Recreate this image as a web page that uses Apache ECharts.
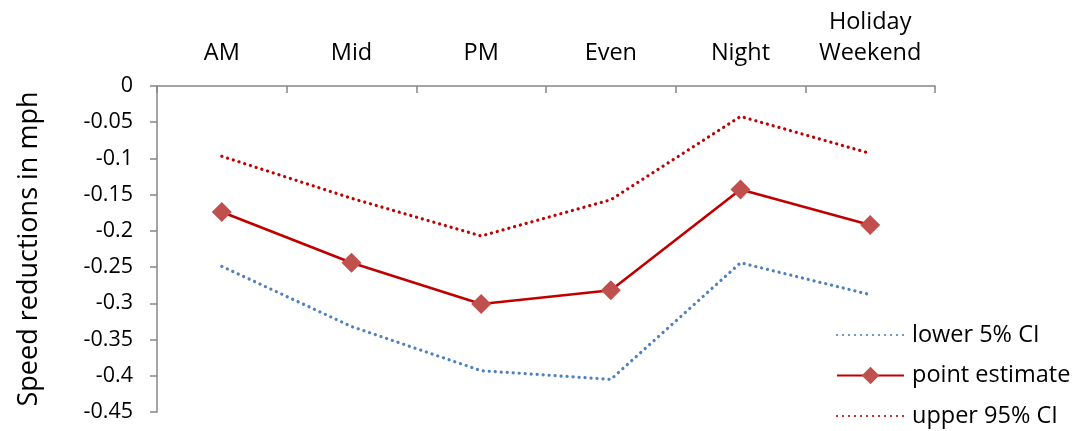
<!DOCTYPE html>
<html>
<head>
<meta charset="utf-8">
<script src="https://cdn.jsdelivr.net/npm/echarts@6/dist/echarts.min.js"></script>
<style>
html,body{margin:0;padding:0;background:#fff;}
#chart{width:1077px;height:431px;}
</style>
</head>
<body>
<div id="chart"></div>
<script>
const categories = ['AM', 'Mid', 'PM', 'Even', 'Night', 'Holiday\nWeekend'];
const lowerCI = [-0.249, -0.332, -0.393, -0.405, -0.244, -0.288];
const pointEstimate = [-0.174, -0.244, -0.301, -0.282, -0.143, -0.192];
const upperCI = [-0.097, -0.155, -0.207, -0.157, -0.042, -0.093];
const seriesNames = ['lower 5% CI', 'point estimate', 'upper 95% CI'];

const FONT = '"Open Sans", "Liberation Sans", sans-serif';
const chart = echarts.init(document.getElementById('chart'), null, {renderer: 'canvas'});
const dotted = [0.1, 5.9];
chart.setOption({
  animation: false,
  backgroundColor: '#ffffff',
  textStyle: {fontFamily: FONT, color: '#000'},
  grid: {left: 157, right: 142, top: 86, bottom: 19, containLabel: false},
  legend: {
    orient: 'vertical',
    left: 836,
    top: 323,
    padding: 0,
    itemWidth: 67,
    itemHeight: 22,
    itemGap: 16.5,
    textStyle: {fontFamily: FONT, fontSize: 23.5, lineHeight: 22, color: '#000', padding: [0, 0, 0, 3]},
    data: [
      {name: seriesNames[0], itemStyle: {opacity: 0}},
      {name: seriesNames[1]},
      {name: seriesNames[2], itemStyle: {opacity: 0}}
    ]
  },
  xAxis: {
    type: 'category',
    position: 'top',
    data: categories,
    boundaryGap: true,
    axisLine: {onZero: false, lineStyle: {color: '#868686', width: 1.5}},
    axisTick: {show: true, inside: true, length: 7, lineStyle: {color: '#868686', width: 1.5}},
    axisLabel: {fontFamily: FONT, fontSize: 23.5, color: '#000', margin: 17, lineHeight: 31, interval: 0}
  },
  yAxis: {
    type: 'value',
    min: -0.45,
    max: 0,
    interval: 0.05,
    name: 'Speed reductions in mph',
    nameLocation: 'middle',
    nameGap: 114,
    nameTextStyle: {fontFamily: FONT, fontSize: 27, color: '#000'},
    axisLine: {show: true, lineStyle: {color: '#868686', width: 1.5}},
    axisTick: {show: true, length: 7, lineStyle: {color: '#868686', width: 1.5}},
    splitLine: {show: false},
    axisLabel: {fontFamily: FONT, fontSize: 21.5, color: '#000', margin: 24,
      formatter: v => String(Math.round(v * 100) / 100)}
  },
  series: [
    {
      name: seriesNames[0], type: 'line', data: lowerCI,
      symbol: 'none', showSymbol: false,
      itemStyle: {color: '#4F81BD'},
      lineStyle: {color: '#4F81BD', width: 3.2, type: dotted, cap: 'round'}
    },
    {
      name: seriesNames[1], type: 'line', data: pointEstimate,
      symbol: 'diamond', symbolSize: 20,
      itemStyle: {color: '#C0504D'},
      lineStyle: {color: '#C00000', width: 2.6}
    },
    {
      name: seriesNames[2], type: 'line', data: upperCI,
      symbol: 'none', showSymbol: false,
      itemStyle: {color: '#C00000'},
      lineStyle: {color: '#C00000', width: 3.2, type: dotted, cap: 'round'}
    }
  ]
});
</script>
</body>
</html>
